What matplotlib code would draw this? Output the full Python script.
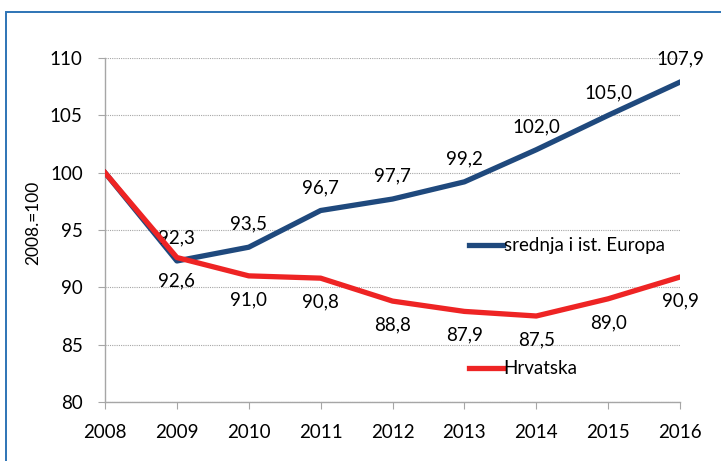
import matplotlib.pyplot as plt
import matplotlib.patches as patches

# data
years = [2008, 2009, 2010, 2011, 2012, 2013, 2014, 2015, 2016]
cee = [100.0, 92.3, 93.5, 96.7, 97.7, 99.2, 102.0, 105.0, 107.9]
hr = [100.0, 92.6, 91.0, 90.8, 88.8, 87.9, 87.5, 89.0, 90.9]
cee_name = "srednja i ist. Europa"
hr_name = "Hrvatska"
y_label = "2008.=100"

BLUE = "#1f497d"
RED = "#ee2424"
GRID = "#a6a6a6"
FS = 13.5

plt.rcParams['font.family'] = ['Lato', 'DejaVu Sans']

fig = plt.figure(figsize=(7.21, 4.61), dpi=100)
ax = fig.add_axes([105/721, 59/461, 575/721, 344/461])

# frame round the chart (right and bottom edges fall outside the picture)
fig.patches.append(patches.Rectangle((6/721, -0.2), 1.2, 1.2 - 12/461,
                                     transform=fig.transFigure, fill=False,
                                     edgecolor="#2e74b5", linewidth=1.4))

l1, = ax.plot(years, cee, color=BLUE, lw=3.8, solid_joinstyle='round', zorder=3)
l2, = ax.plot(years, hr, color=RED, lw=3.8, solid_joinstyle='round', zorder=4)

for x, v in zip(years[1:], cee[1:]):
    ax.annotate(f"{v:.1f}".replace('.', ','), (x, v), xytext=(0, 16.5),
                textcoords='offset points', ha='center', va='center', fontsize=FS)
for x, v in zip(years[1:], hr[1:]):
    ax.annotate(f"{v:.1f}".replace('.', ','), (x, v), xytext=(0, -17),
                textcoords='offset points', ha='center', va='center', fontsize=FS)

ax.set_xlim(2008, 2016)
ax.set_ylim(80, 110)
ax.set_yticks(range(80, 111, 5))
ax.set_xticks(years)
ax.grid(axis='y', color=GRID, linestyle=(0, (1, 1)), linewidth=0.8)
ax.set_axisbelow(True)
for s in ['top', 'right']:
    ax.spines[s].set_visible(False)
for s in ['left', 'bottom']:
    ax.spines[s].set_color(GRID)
    ax.spines[s].set_linewidth(1.0)
ax.tick_params(axis='both', colors=GRID, labelcolor='black', labelsize=FS, length=5)
ax.tick_params(axis='x', pad=11)
ax.tick_params(axis='y', pad=11)
ax.set_ylabel(y_label, fontsize=12.5, labelpad=6)
ax.yaxis.label.set_y(0.52)

leg1 = ax.legend([l1], [cee_name], loc='center left', bbox_to_anchor=(0.62, 0.454),
                 frameon=False, fontsize=FS, handlelength=1.8, handletextpad=0.05,
                 borderaxespad=0)
ax.add_artist(leg1)
ax.legend([l2], [hr_name], loc='center left', bbox_to_anchor=(0.62, 0.097),
          frameon=False, fontsize=FS, handlelength=1.8, handletextpad=0.05,
          borderaxespad=0)

fig.savefig("out.png", dpi=100)
